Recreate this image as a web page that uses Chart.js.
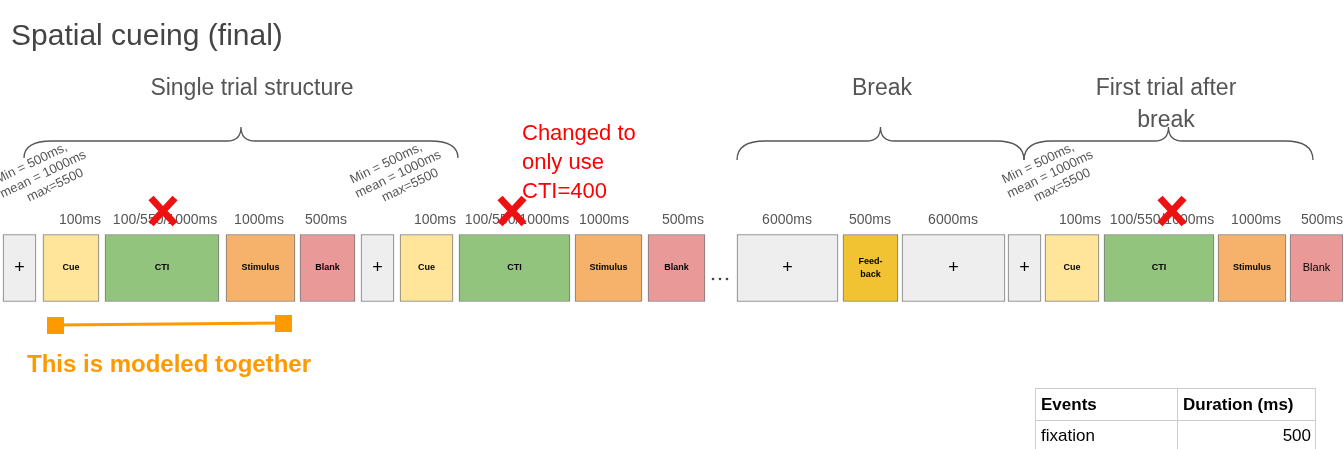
<!DOCTYPE html>
<html><head><meta charset="utf-8">
<script src="https://cdn.jsdelivr.net/npm/chart.js@4"></script>
<style>html,body{margin:0;padding:0;background:#fff}#c{display:block}</style>
</head><body>
<div style="width:1343px;height:449px"><canvas id="c"></canvas></div>
<script>
// events in the timeline: [start, end] in pixel-like units of the x axis
const eventNames = ['+','Cue','CTI','Stimulus','Blank','+','Cue','CTI','Stimulus','Blank','+','Feed-back','+','+','Cue','CTI','Stimulus','Blank'];
const eventRanges = [[3,36],[43,99],[105,219],[226,295],[300,355],[361,394],[400,453],[459,570],[575,642],[648,705],[737,838],[843,898],[902,1005],[1008,1041],[1045,1099],[1104,1214],[1218,1286],[1290,1343]];
const eventColors = ['#eeeeee','#ffe599','#93c47d','#f6b26b','#ea9999','#eeeeee','#ffe599','#93c47d','#f6b26b','#ea9999','#eeeeee','#f1c232','#eeeeee','#eeeeee','#ffe599','#93c47d','#f6b26b','#ea9999'];
const durationLabels = ['100ms','100/550/1000ms','1000ms','500ms','100ms','100/550/1000ms','1000ms','500ms','6000ms','500ms','6000ms','100ms','100/550/1000ms','1000ms','500ms'];
const durationX = [80,165,259,326,435,517,604,683,787,870,953,1080,1162,1256,1322];
const fixationNote = ['Min = 500ms,','mean = 1000ms','max=5500'];
const fixationNoteX = [45,400,1052];
const crossX = [163,512,1172];
const tableRows = [['Events','Duration (ms)'],['fixation','500']];

const overlay = {
  id: 'overlay',
  afterDatasetsDraw(chart) {
    const ctx = chart.ctx;
    const xs = chart.scales.x;
    ctx.save();
    // labels inside boxes
    ctx.textAlign = 'center'; ctx.textBaseline = 'middle'; ctx.fillStyle = '#000';
    eventNames.forEach((n, i) => {
      const cx = xs.getPixelForValue((eventRanges[i][0] + eventRanges[i][1]) / 2);
      if (n === '+') { ctx.font = '18px Arial, Liberation Sans'; ctx.fillText('+', cx, 268); }
      else if (n === 'Feed-back') { ctx.font = 'bold 9px Arial, Liberation Sans'; ctx.fillText('Feed-', cx, 262); ctx.fillText('back', cx, 275); }
      else if (i === eventNames.length - 1) { ctx.font = '11px Arial, Liberation Sans'; ctx.fillText(n, cx, 268); }
      else { ctx.font = 'bold 9px Arial, Liberation Sans'; ctx.fillText(n, cx, 268); }
    });
    // durations
    ctx.fillStyle = '#555'; ctx.font = '14px Arial, Liberation Sans'; ctx.textBaseline = 'alphabetic';
    durationLabels.forEach((t, i) => ctx.fillText(t, xs.getPixelForValue(durationX[i]), 224));
    // rotated fixation notes
    ctx.font = '13px Arial, Liberation Sans';
    fixationNoteX.forEach(x => {
      ctx.save(); ctx.translate(xs.getPixelForValue(x), 192); ctx.rotate(-0.45);
      fixationNote.forEach((t, k) => ctx.fillText(t, 0 + k * 6, -28 + k * 15));
      ctx.restore();
    });
    // braces
    ctx.strokeStyle = '#555'; ctx.lineWidth = 1.3;
    const brace = (a, b, top, bot) => {
      const m = (a + b) / 2, r = 14;
      ctx.beginPath();
      ctx.moveTo(a, bot);
      ctx.quadraticCurveTo(a, top + r, a + r * 2, top + r);
      ctx.lineTo(m - r, top + r);
      ctx.quadraticCurveTo(m, top + r, m, top);
      ctx.quadraticCurveTo(m, top + r, m + r, top + r);
      ctx.lineTo(b - r * 2, top + r);
      ctx.quadraticCurveTo(b, top + r, b, bot);
      ctx.stroke();
    };
    brace(24, 458, 127, 158); brace(737, 1024, 127, 160); brace(1024, 1313, 127, 160);
    // headings
    ctx.fillStyle = '#444'; ctx.textAlign = 'left'; ctx.font = '30px Arial, Liberation Sans';
    ctx.fillText('Spatial cueing (final)', 11, 45);
    ctx.fillStyle = '#555'; ctx.textAlign = 'center'; ctx.font = '23px Arial, Liberation Sans';
    ctx.fillText('Single trial structure', 252, 95);
    ctx.fillText('Break', 882, 95);
    ctx.fillText('First trial after', 1166, 95);
    ctx.fillText('break', 1166, 127);
    ctx.fillStyle = '#ff0000'; ctx.textAlign = 'left'; ctx.font = '22px Arial, Liberation Sans';
    ['Changed to', 'only use', 'CTI=400'].forEach((t, k) => ctx.fillText(t, 522, 140 + k * 29));
    // red crosses
    ctx.strokeStyle = '#ee1111'; ctx.lineWidth = 7; ctx.lineCap = 'butt';
    crossX.forEach(x => {
      ctx.beginPath(); ctx.moveTo(x - 12, 198); ctx.lineTo(x + 12, 224);
      ctx.moveTo(x + 12, 198); ctx.lineTo(x - 12, 224); ctx.stroke();
    });
    // dots
    ctx.fillStyle = '#444';
    [713, 720, 727].forEach(x => { ctx.beginPath(); ctx.arc(x, 279, 1.3, 0, Math.PI * 2); ctx.fill(); });
    // orange connector
    ctx.strokeStyle = '#ff9900'; ctx.fillStyle = '#ff9900'; ctx.lineWidth = 3;
    ctx.beginPath(); ctx.moveTo(55, 325); ctx.lineTo(283, 323); ctx.stroke();
    ctx.fillRect(47, 317, 17, 17); ctx.fillRect(275, 315, 17, 17);
    ctx.font = 'bold 24px Arial, Liberation Sans';
    ctx.fillText('This is modeled together', 27, 372);
    // table
    ctx.strokeStyle = '#cccccc'; ctx.lineWidth = 1;
    const cols = [1035, 1177, 1315], rows = [388, 420, 452];
    rows.forEach(y => { ctx.beginPath(); ctx.moveTo(cols[0], y + 0.5); ctx.lineTo(cols[2], y + 0.5); ctx.stroke(); });
    cols.forEach(x => { ctx.beginPath(); ctx.moveTo(x + 0.5, rows[0]); ctx.lineTo(x + 0.5, 449); ctx.stroke(); });
    ctx.fillStyle = '#000';
    ctx.font = 'bold 17px Arial, Liberation Sans';
    ctx.textAlign = 'left'; ctx.fillText(tableRows[0][0], 1041, 410); ctx.fillText(tableRows[0][1], 1183, 410);
    ctx.font = '17px Arial, Liberation Sans';
    ctx.fillText(tableRows[1][0], 1041, 441);
    ctx.textAlign = 'right'; ctx.fillText(tableRows[1][1], 1311, 441);
    ctx.restore();
  }
};

new Chart(document.getElementById('c'), {
  type: 'bar',
  data: {
    labels: ['trial'],
    datasets: eventRanges.map((r, i) => ({
      label: eventNames[i],
      data: [r],
      backgroundColor: eventColors[i],
      borderColor: '#777',
      borderWidth: 1,
      borderSkipped: false,
      barThickness: 67,
      grouped: false
    }))
  },
  options: {
    indexAxis: 'y',
    responsive: true,
    maintainAspectRatio: false,
    animation: false,
    layout: { padding: { top: 87, bottom: 0, left: 0, right: 0 } },
    plugins: { legend: { display: false }, tooltip: { enabled: false } },
    scales: {
      x: { type: 'linear', min: 0, max: 1343, display: false },
      y: { display: false }
    }
  },
  plugins: [overlay]
});
</script>
</body></html>
